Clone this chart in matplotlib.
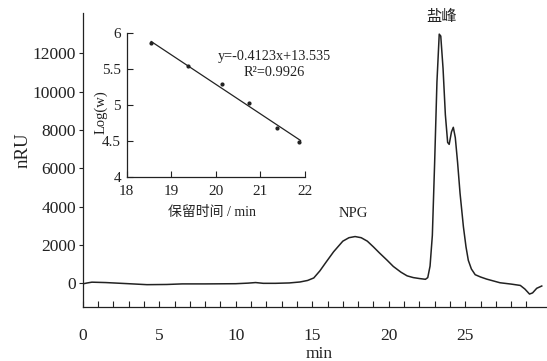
import matplotlib

matplotlib.use("Agg")

import matplotlib.pyplot as plt  # noqa: E402
import numpy as np  # noqa: E402

plt.rcParams["font.family"] = ["Liberation Serif", "Noto Sans CJK SC"]

# chromatogram: time (min) vs signal (nRU)
TIME_MIN = [
    0.0, 0.3, 0.6, 1.5, 3.0, 4.2, 5.5, 6.5, 8.0, 10.0, 10.8, 11.3, 11.8,
    12.6, 13.5, 14.2, 14.7, 15.1, 15.5, 15.9, 16.4, 17.0, 17.4, 17.8, 18.2,
    18.6, 19.0, 19.4, 19.9, 20.3, 20.8, 21.2, 21.6, 22.0, 22.4, 22.55, 22.7,
    22.85, 23.0, 23.15, 23.3, 23.4, 23.55, 23.7, 23.85, 23.95, 24.1, 24.22,
    24.35, 24.5, 24.66, 24.88, 25.05, 25.2, 25.4, 25.65, 26.0, 26.4, 27.27,
    28.0, 28.6, 28.9, 29.2, 29.4, 29.67, 30.0,
]
SIGNAL_NRU = [
    -30, 20, 60, 40, -20, -70, -60, -30, -30, -20, 10, 40, 0,
    0, 20, 70, 150, 280, 650, 1100, 1650, 2200, 2380, 2440, 2380,
    2200, 1900, 1580, 1200, 880, 580, 390, 300, 250, 210, 300, 900,
    2500, 6300, 10500, 13000, 12900, 11200, 8800, 7350, 7250, 7900, 8140,
    7600, 6300, 4700, 2950, 1900, 1200, 750, 450, 330, 220, 30,
    -40, -110, -300, -560, -500, -260, -140,
]

# calibration inset: retention time vs log(w)
CAL_TIME = [18.54, 19.38, 20.14, 20.74, 21.38, 21.87]
CAL_LOGW = [5.86, 5.55, 5.29, 5.03, 4.675, 4.49]
FIT_SLOPE = -0.4123
FIT_INTERCEPT = 13.535
FIT_RANGE = [18.55, 21.9]

Y_TICKS = [0, 2000, 4000, 6000, 8000, 10000, 12000]
X_TICKS = [0, 5, 10, 15, 20, 25]

INK = "#222222"

fig = plt.figure(figsize=(5.47, 3.61), dpi=100)

# ---- main chromatogram
ax = fig.add_axes([0.1512, 0.1488, 0.849, 0.815])
ax.plot(TIME_MIN, SIGNAL_NRU, color=INK, linewidth=1.1)
ax.set_xlim(0, 30.35)
ax.set_ylim(-1250, 14100)
ax.set_xticks(X_TICKS)
ax.set_xticks(range(1, 30), minor=True)
ax.set_yticks(Y_TICKS)
ax.tick_params(axis="x", which="both", direction="in", length=4,
               width=0.8, color=INK, pad=15, labelsize=12.5, labelcolor=INK)
ax.tick_params(axis="y", direction="out", length=3, width=0.8,
               color=INK, pad=2, labelsize=12.5, labelcolor=INK)
for side in ("top", "right"):
    ax.spines[side].set_visible(False)
for side in ("left", "bottom"):
    ax.spines[side].set_linewidth(0.9)
    ax.spines[side].set_color(INK)
ax.text(0.509, -0.158, "min", transform=ax.transAxes, ha="center",
        va="center", fontsize=12.5, color=INK)
ax.text(-0.1286, 0.534, "nRU", transform=ax.transAxes, ha="center",
        va="center", rotation=90, fontsize=13.5, color=INK)

ax.text(17.7, 3630, "NPG", ha="center", va="center", fontsize=10.5,
        color=INK)
ax.text(23.45, 13920, "盐峰", ha="center", va="center", fontsize=11,
        color=INK)

# ---- calibration inset
ins = fig.add_axes([0.2316, 0.5105, 0.326, 0.397])
ins.scatter(CAL_TIME, CAL_LOGW, s=4, color=INK, zorder=3)
fit_x = np.array(FIT_RANGE)
ins.plot(fit_x, FIT_SLOPE * fit_x + FIT_INTERCEPT, color=INK, linewidth=0.9)
ins.set_xlim(18, 22)
ins.set_ylim(4, 6)
ins.set_xticks([18, 19, 20, 21, 22])
ins.set_yticks([4, 4.5, 5, 5.5, 6])
ins.set_yticklabels(["4", "4.5", "5", "5.5", "6"])
ins.tick_params(axis="x", direction="in", length=4, width=0.8, color=INK,
                pad=6, labelsize=11, labelcolor=INK)
ins.tick_params(axis="y", direction="in", length=4, width=0.8, color=INK,
                pad=4, labelsize=11, labelcolor=INK)
for side in ("top", "right"):
    ins.spines[side].set_visible(False)
for side in ("left", "bottom"):
    ins.spines[side].set_linewidth(0.9)
    ins.spines[side].set_color(INK)
ins.patch.set_alpha(0)
ins.text(0.477, -0.253, "保留时间 / min", transform=ins.transAxes,
         ha="center", va="center", fontsize=10, color=INK)
ins.text(-0.144, 0.451, "Log(w)", transform=ins.transAxes, ha="center",
         va="center", rotation=90, fontsize=10.5, color=INK)
ins.text(0.83, 0.84, "y=-0.4123x+13.535", transform=ins.transAxes,
         ha="center", va="center", fontsize=10.3, color=INK)
ins.text(0.83, 0.73, "R²=0.9926", transform=ins.transAxes,
         ha="center", va="center", fontsize=10.3, color=INK)

fig.savefig("out.png", dpi=100)
